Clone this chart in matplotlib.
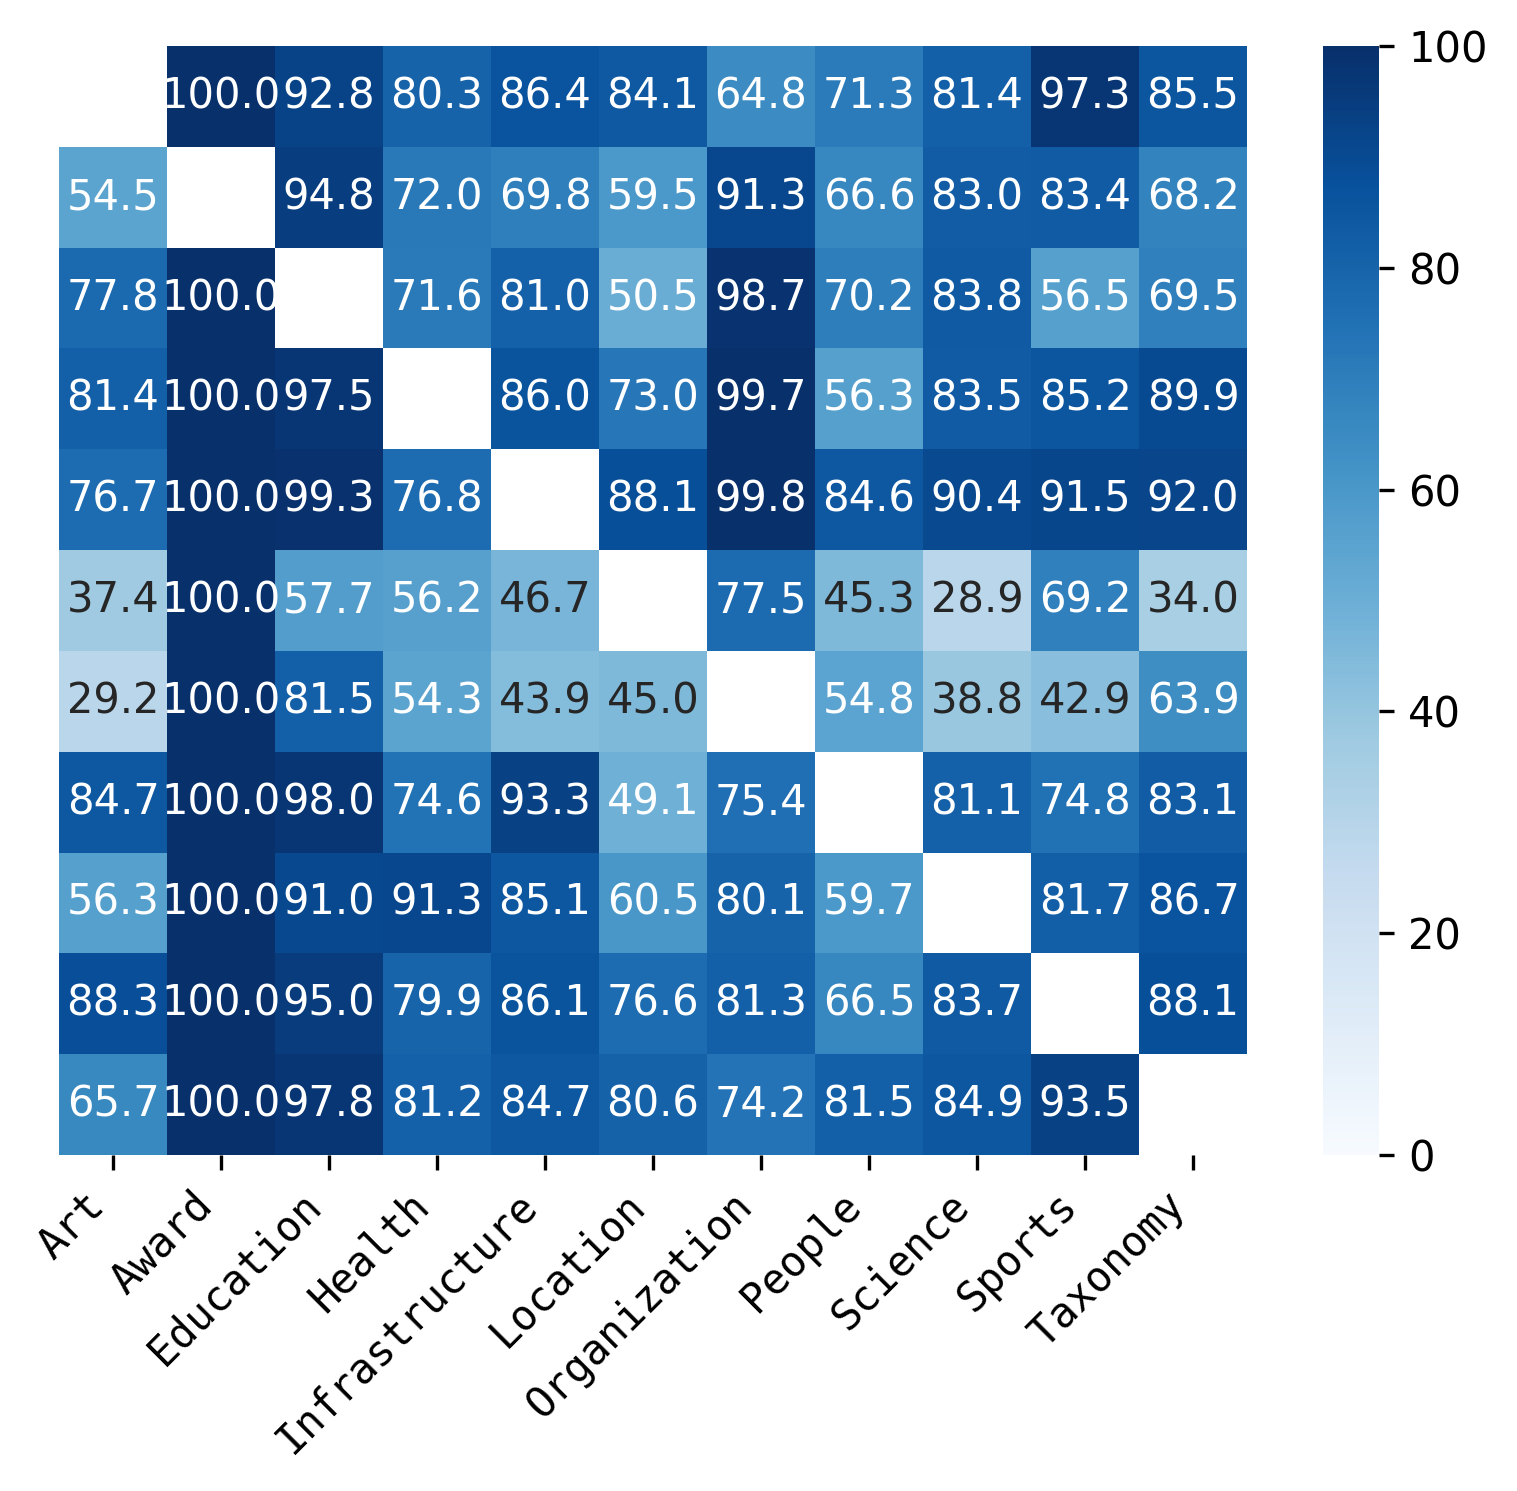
import numpy as np
import matplotlib
matplotlib.use('Agg')
import matplotlib.pyplot as plt
import seaborn as sns

labels = ['Art', 'Award', 'Education', 'Health', 'Infrastructure', 'Location',
          'Organization', 'People', 'Science', 'Sports', 'Taxonomy']

nan = np.nan
row_art   = [nan, 100.0, 92.8, 80.3, 86.4, 84.1, 64.8, 71.3, 81.4, 97.3, 85.5]
row_award = [54.5, nan, 94.8, 72.0, 69.8, 59.5, 91.3, 66.6, 83.0, 83.4, 68.2]
row_edu   = [77.8, 100.0, nan, 71.6, 81.0, 50.5, 98.7, 70.2, 83.8, 56.5, 69.5]
row_hlth  = [81.4, 100.0, 97.5, nan, 86.0, 73.0, 99.7, 56.3, 83.5, 85.2, 89.9]
row_infr  = [76.7, 100.0, 99.3, 76.8, nan, 88.1, 99.8, 84.6, 90.4, 91.5, 92.0]
row_loc   = [37.4, 100.0, 57.7, 56.2, 46.7, nan, 77.5, 45.3, 28.9, 69.2, 34.0]
row_org   = [29.2, 100.0, 81.5, 54.3, 43.9, 45.0, nan, 54.8, 38.8, 42.9, 63.9]
row_ppl   = [84.7, 100.0, 98.0, 74.6, 93.3, 49.1, 75.4, nan, 81.1, 74.8, 83.1]
row_sci   = [56.3, 100.0, 91.0, 91.3, 85.1, 60.5, 80.1, 59.7, nan, 81.7, 86.7]
row_spt   = [88.3, 100.0, 95.0, 79.9, 86.1, 76.6, 81.3, 66.5, 83.7, nan, 88.1]
row_tax   = [65.7, 100.0, 97.8, 81.2, 84.7, 80.6, 74.2, 81.5, 84.9, 93.5, nan]

data = np.array([row_art, row_award, row_edu, row_hlth, row_infr, row_loc,
                 row_org, row_ppl, row_sci, row_spt, row_tax])

W, H = 1517, 1491
fig = plt.figure(figsize=(W / 300, H / 300), dpi=300)
ax = fig.add_axes([59 / W, (H - 1155) / H, 1188 / W, 1109 / H])
cax = fig.add_axes([1323 / W, (H - 1155) / H, 56 / W, 1109 / H])

sns.heatmap(data, ax=ax, cbar_ax=cax, cmap='Blues', vmin=0, vmax=100,
            annot=True, fmt='.1f', annot_kws={'fontsize': 10},
            xticklabels=labels, yticklabels=False)
ax.set_xticklabels(labels, rotation=45, ha='right', family='DejaVu Sans Mono', fontsize=10)
cax.tick_params(labelsize=10)
cax.set_yticks([0, 20, 40, 60, 80, 100])

fig.savefig('out.png', dpi=300)
